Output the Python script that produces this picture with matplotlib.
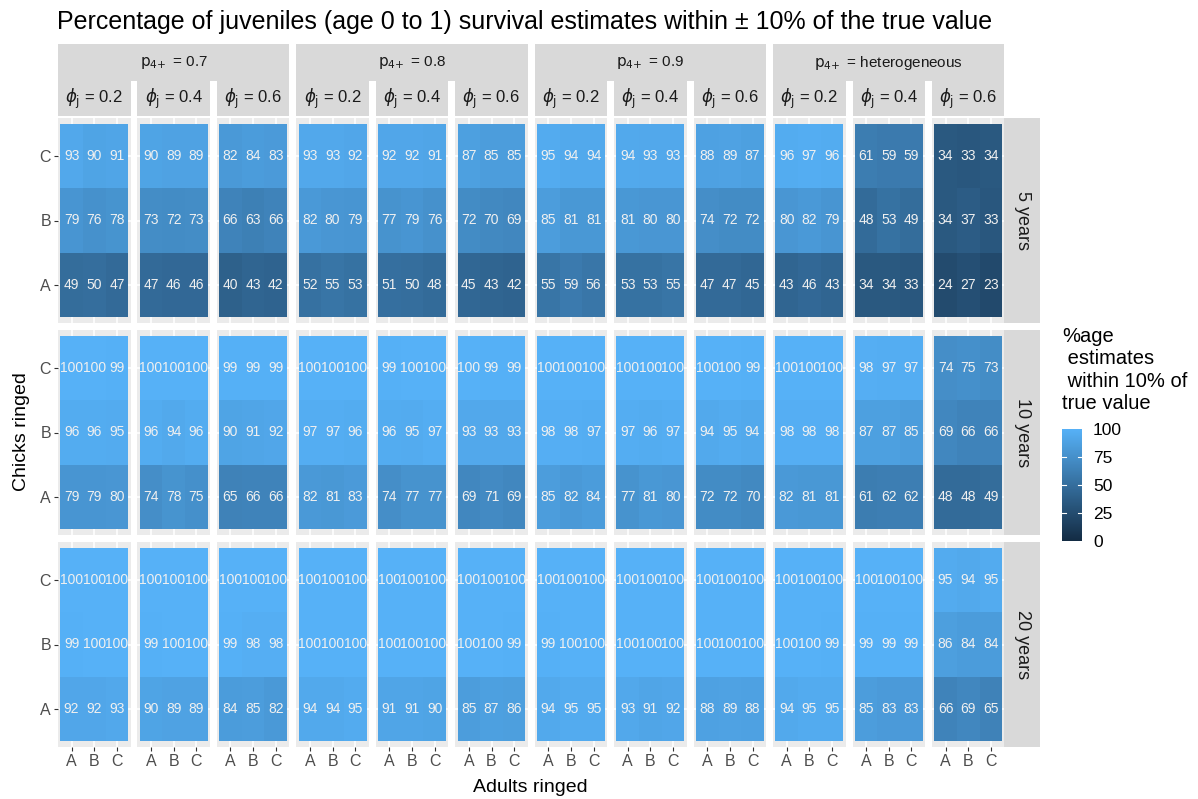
import numpy as np
import matplotlib
matplotlib.use("Agg")
import matplotlib.pyplot as plt
from matplotlib.colors import LinearSegmentedColormap

plt.rcParams['font.family'] = ['Liberation Sans', 'DejaVu Sans']

# facet labels
p_groups = ["0.7", "0.8", "0.9", "heterogeneous"]
phi_levels = ["0.2", "0.4", "0.6"]
durations = ["5 years", "10 years", "20 years"]
letters = ["A", "B", "C"]

# each panel: rows as seen top->bottom (chicks C, B, A), columns adults A, B, C
years5 = [
    [[93, 90, 91], [79, 76, 78], [49, 50, 47]],
    [[90, 89, 89], [73, 72, 73], [47, 46, 46]],
    [[82, 84, 83], [66, 63, 66], [40, 43, 42]],
    [[93, 93, 92], [82, 80, 79], [52, 55, 53]],
    [[92, 92, 91], [77, 79, 76], [51, 50, 48]],
    [[87, 85, 85], [72, 70, 69], [45, 43, 42]],
    [[95, 94, 94], [85, 81, 81], [55, 59, 56]],
    [[94, 93, 93], [81, 80, 80], [53, 53, 55]],
    [[88, 89, 87], [74, 72, 72], [47, 47, 45]],
    [[96, 97, 96], [80, 82, 79], [43, 46, 43]],
    [[61, 59, 59], [48, 53, 49], [34, 34, 33]],
    [[34, 33, 34], [34, 37, 33], [24, 27, 23]],
]
years10 = [
    [[100, 100, 99], [96, 96, 95], [79, 79, 80]],
    [[100, 100, 100], [96, 94, 96], [74, 78, 75]],
    [[99, 99, 99], [90, 91, 92], [65, 66, 66]],
    [[100, 100, 100], [97, 97, 96], [82, 81, 83]],
    [[99, 100, 100], [96, 95, 97], [74, 77, 77]],
    [[100, 99, 99], [93, 93, 93], [69, 71, 69]],
    [[100, 100, 100], [98, 98, 97], [85, 82, 84]],
    [[100, 100, 100], [97, 96, 97], [77, 81, 80]],
    [[100, 100, 99], [94, 95, 94], [72, 72, 70]],
    [[100, 100, 100], [98, 98, 98], [82, 81, 81]],
    [[98, 97, 97], [87, 87, 85], [61, 62, 62]],
    [[74, 75, 73], [69, 66, 66], [48, 48, 49]],
]
years20 = [
    [[100, 100, 100], [99, 100, 100], [92, 92, 93]],
    [[100, 100, 100], [99, 100, 100], [90, 89, 89]],
    [[100, 100, 100], [99, 98, 98], [84, 85, 82]],
    [[100, 100, 100], [100, 100, 100], [94, 94, 95]],
    [[100, 100, 100], [100, 100, 100], [91, 91, 90]],
    [[100, 100, 100], [100, 100, 99], [85, 87, 86]],
    [[100, 100, 100], [99, 100, 100], [94, 95, 95]],
    [[100, 100, 100], [100, 100, 100], [93, 91, 92]],
    [[100, 100, 100], [100, 100, 100], [88, 89, 88]],
    [[100, 100, 100], [100, 100, 99], [94, 95, 95]],
    [[100, 100, 100], [99, 99, 99], [85, 83, 83]],
    [[95, 94, 95], [86, 84, 84], [66, 69, 65]],
]
all_years = [years5, years10, years20]

cmap = LinearSegmentedColormap.from_list("gg", ["#132B43", "#56B1F7"])

W, H = 1198, 799
fig = plt.figure(figsize=(W / 100, H / 100), dpi=100)


def box(x0, y0, x1, y1):
    return [x0 / W, 1 - y1 / H, (x1 - x0) / W, (y1 - y0) / H]


def strip(x0, y0, x1, y1, label, rot=0, size=11):
    ax = fig.add_axes(box(x0, y0, x1, y1))
    ax.set_facecolor("#D9D9D9")
    ax.set_xticks([])
    ax.set_yticks([])
    for s in ax.spines.values():
        s.set_visible(False)
    ax.text(0.5, 0.5, label, transform=ax.transAxes, ha="center", va="center",
            rotation=rot, fontsize=size, color="#1A1A1A")
    return ax


px0, pitch, pw = 58, 79.45, 72.5
row_top = [118, 330, 542]
ph = 205

for r, data in enumerate(all_years):
    for c in range(12):
        x0 = px0 + c * pitch
        y0 = row_top[r]
        ax = fig.add_axes(box(x0, y0, x0 + pw, y0 + ph))
        ax.set_facecolor("#EBEBEB")
        ax.set_axisbelow(True)
        ax.grid(True, color="white", linewidth=1.1)
        vals = np.array(data[c])[::-1]  # rows now A, B, C bottom->top
        edges = np.arange(0.5, 4.0, 1.0)
        ax.pcolormesh(edges, edges, vals, cmap=cmap, vmin=0, vmax=100)
        for i in range(3):
            for j in range(3):
                ax.text(j + 1, i + 1, str(vals[i, j]), ha="center", va="center",
                        fontsize=10, color="#F0F0F0")
        ax.set_xlim(0.4, 3.6)
        ax.set_ylim(0.4, 3.6)
        ax.set_xticks([1, 2, 3])
        ax.set_yticks([1, 2, 3])
        for s in ax.spines.values():
            s.set_visible(False)
        ax.tick_params(colors="#333333", labelcolor="#4D4D4D", labelsize=11.5,
                       length=3, width=0.8, pad=2)
        if c == 0:
            ax.set_yticklabels(letters)
        else:
            ax.tick_params(axis="y", length=0, labelleft=False)
        if r == 2:
            ax.set_xticklabels(letters)
        else:
            ax.tick_params(axis="x", length=0, labelbottom=False)

# top strips
for g, pg in enumerate(p_groups):
    xa = px0 + 3 * g * pitch
    xb = px0 + (3 * g + 2) * pitch + pw
    strip(xa, 44, xb, 81, r"$\mathrm{p}_{4\!+}$ = " + pg, size=11)
    for k, ph_lab in enumerate(phi_levels):
        xs = px0 + (3 * g + k) * pitch
        strip(xs, 81, xs + pw, 116, r"$\phi_{\mathrm{j}}$ = " + ph_lab, size=12)

# right strips
for r, d in enumerate(durations):
    strip(1004, row_top[r], 1040, row_top[r] + ph, d, rot=-90, size=13)

fig.text(57 / W, 1 - 22 / H,
         "Percentage of juveniles (age 0 to 1) survival estimates within \u00b1 10% of the true value",
         ha="left", va="center", fontsize=18, color="black")
fig.text(530 / W, 1 - 787 / H, "Adults ringed", ha="center", va="center", fontsize=14)
fig.text(22 / W, 1 - 432 / H, "Chicks ringed", ha="center", va="center",
         rotation=90, fontsize=14)

# legend
fig.text(1062 / W, 1 - 327 / H, "%age\n estimates\n within 10% of\ntrue value",
         ha="left", va="top", fontsize=14.5, linespacing=1.22)
cax = fig.add_axes(box(1062, 429, 1082, 541))
sm = matplotlib.cm.ScalarMappable(cmap=cmap, norm=plt.Normalize(0, 100))
cb = fig.colorbar(sm, cax=cax)
cb.outline.set_visible(False)
cb.set_ticks([0, 25, 50, 75, 100])
cax.tick_params(length=0, labelsize=12.5, pad=8, labelcolor="black")
for t in [25, 50, 75]:
    cax.axhline(t, xmin=0, xmax=0.2, color="white", linewidth=0.8)
    cax.axhline(t, xmin=0.8, xmax=1, color="white", linewidth=0.8)

fig.savefig("out.png", dpi=100)
